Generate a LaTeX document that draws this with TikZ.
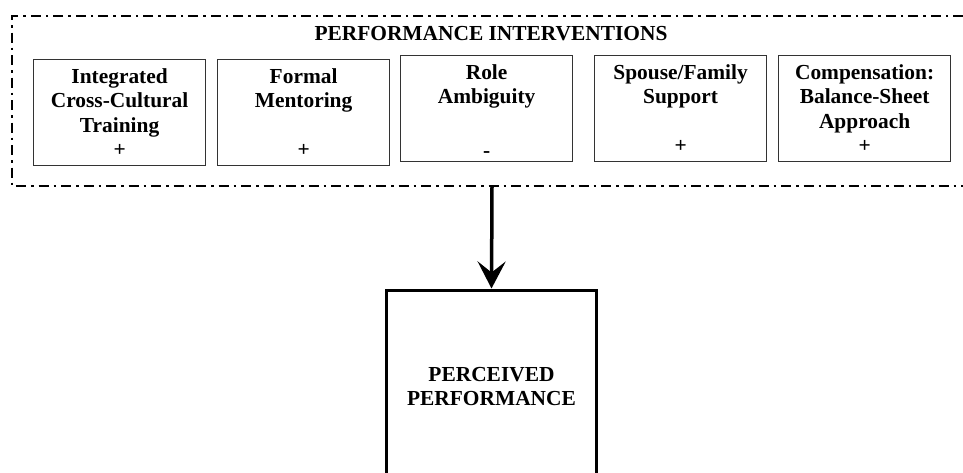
\documentclass[tikz,border=0pt]{standalone}
\usepackage{fontspec}
\setmainfont{Liberation Serif}
\usetikzlibrary{arrows.meta}
\begin{document}
\begin{tikzpicture}[x=1pt,y=-1pt,
  lbl/.style={font=\fontsize{21.4}{24.5}\selectfont\bfseries, align=center},
  ibox/.style={lbl, draw=black!80, line width=1.2pt, minimum width=172pt, minimum height=106pt,
    inner sep=0pt, text width=170pt, anchor=north west},
  outer/.style={line width=2pt, dash pattern=on 10pt off 5pt on 2.5pt off 5pt},
  perfbox/.style={lbl, draw, line width=3pt, minimum width=210pt, minimum height=193pt, anchor=north},
  bigarrow/.style={line width=3.5pt, -{Stealth[length=27pt,width=28pt,inset=11pt]}}
]
\useasboundingbox (0,0) rectangle (963,472);
\clip (0,0) rectangle (963,472);
\draw[outer] (963,16) -- (12,16) -- (12,186) -- (963,186);
\coordinate (pibot) at (492,186);
\node[lbl] (title) at (491,34) {PERFORMANCE INTERVENTIONS};
\node[ibox] (b1) at (33,59) {Integrated\\Cross-Cultural\\Training\\+};
\node[ibox] (b2) at (217,59) {Formal\\Mentoring\\\mbox{}\\+};
\node[ibox] (b3) at (400,55) {Role\\Ambiguity\\\mbox{}\\\smash{\raisebox{-5pt}{-}}};
\node[ibox] (b4) at (594,55) {Spouse/Family\\Support\\\mbox{}\\+};
\node[ibox] (b5) at (778,55) {Compensation:\\Balance-Sheet\\Approach\\+};
\node[perfbox] (perf) at (491.5,288.5) {PERCEIVED\\PERFORMANCE};
\draw[bigarrow] (pibot) -- (perf.north);
\end{tikzpicture}
\end{document}
